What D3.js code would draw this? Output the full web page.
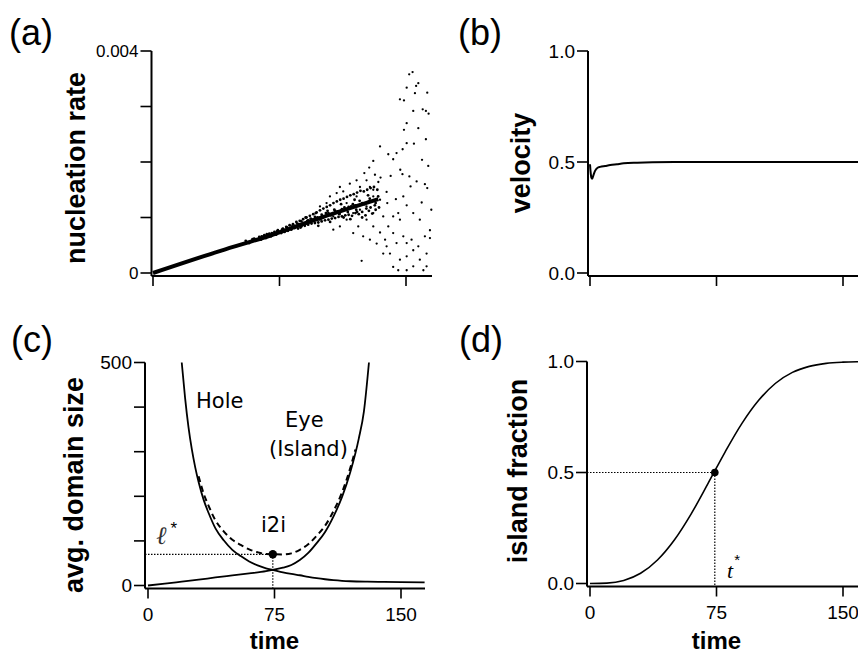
<!DOCTYPE html>
<html><head><meta charset="utf-8">
<script src="https://cdn.jsdelivr.net/npm/d3@7"></script>
<style>body{margin:0;background:#fff} svg{display:block}</style>
</head><body>
<svg id="chart" width="858" height="653"></svg>
<script>
// ---------- DATA ----------
const timeTicks = [0, 75, 150];
const timeTickLabels = ["0", "75", "150"];

const rateTicks = [0, 0.001, 0.002, 0.003, 0.004];
const rateTickLabels = ["0", "", "", "", "0.004"];
const rateFit = [[0,0],[40,0.0004],[70,0.00068],[100,0.00100],[133.6,0.00133]];
const rateBand = [
[55,0.00058],[57,0.00054],[59,0.00061],[61,0.00059],[63,0.00065],[64,0.00060],[66,0.00068],[67,0.00063],
[69,0.00071],[70,0.00066],[72,0.00074],[73,0.00069],[74,0.00077],[76,0.00072],[77,0.00080],[78,0.00074],
[79,0.00083],[80,0.00076],[81,0.00086],[82,0.00078],[83,0.00088],[84,0.00081],[85,0.00092],[86,0.00080],
[87,0.00094],[88,0.00084],[89,0.00097],[90,0.00085],[91,0.00100],[92,0.00087],[93,0.00103],[94,0.00089],
[95,0.00106],[96,0.00090],[97,0.00109],[98,0.00091],[99,0.00113],[100,0.00093],[101,0.00116],[102,0.00095],
[103,0.00119],[104,0.00096],[105,0.00122],[106,0.00098],[107,0.00126],[108,0.00099],[109,0.00129],[110,0.00101],
[111,0.00132],[112,0.00102],[113,0.00134],[114,0.00104],[115,0.00137],[116,0.00105],[117,0.00140],[118,0.00103],
[119,0.00142],[120,0.00108],[121,0.00145],[122,0.00106],[123,0.00148],[124,0.00110],[125,0.00147],[126,0.00104],
[127,0.00150],[128,0.00112],[129,0.00153],[130,0.00107],[131,0.00155],[132,0.00114],[133,0.00150],[134,0.00118],
[88,0.00093],[92,0.00095],[96,0.00101],[100,0.00105],[104,0.00108],[108,0.00112],[112,0.00115],[116,0.00119],
[120,0.00122],[124,0.00126],[128,0.00129],[85.5,0.00089],[93.5,0.00098],[101.5,0.00102],[109.5,0.00111],
[117.5,0.00120],[125.5,0.00124],
[60,0.00062],[61.5,0.00060],[63,0.00062],[64.5,0.00066],[66,0.00064],[67.5,0.00070],[69,0.00066],[70.5,0.00072],
[72,0.00070],[73.5,0.00075],[75,0.00074],[76.5,0.00078],[78,0.00077],[79.5,0.00082],[81,0.00080],[82.5,0.00084],
[84,0.00085],[86.5,0.00088],[89.5,0.00090],[91.5,0.00094],[94.5,0.00096],[97.5,0.00100],[99.5,0.00098],
[102.5,0.00108],[105.5,0.00104],[107.5,0.00114],[110.5,0.00106],[113.5,0.00118],[115.5,0.00110],[118.5,0.00124],
[120.5,0.00114],[122.5,0.00130],[126.5,0.00116],[128.5,0.00134],[131.5,0.00122],[133.5,0.00138],[96.5,0.00108],
[103.5,0.00112],[111.5,0.00124],[119.5,0.00132],[127.5,0.00140],[105,0.00092],[113,0.00100],[121,0.00110],
[129,0.00118],[98,0.00085],[117,0.00097],[124,0.00100],[132,0.00126],[90.5,0.00100],[87.5,0.00082]
];
const rateScatter = [
[153.9,0.00362],[151.9,0.00358],[157.3,0.00342],[156,0.00337],[150.4,0.00334],[155.3,0.00324],[162.6,0.00325],
[146.4,0.00313],[148.8,0.00311],[154.3,0.00292],[159.9,0.00295],[161.8,0.00292],[163.4,0.00287],[150.4,0.00270],
[148.8,0.00258],[157.3,0.00261],[161.8,0.00241],[150.4,0.00234],[154.7,0.00233],[148,0.00223],[134.6,0.00228],
[144.4,0.00216],[139.5,0.00214],[159.5,0.00204],[163.2,0.00193],[142.4,0.00205],[130.6,0.00202],[146.6,0.00186],
[147.9,0.00178],[128.2,0.00190],[131.6,0.00177],[125.3,0.00180],[134.9,0.00172],[140.9,0.00175],[152,0.00174],
[156.3,0.00165],[161.2,0.00160],[152.7,0.00156],[162.6,0.00153],[165,0.00114],[159.3,0.00127],[150.4,0.00122],
[145.4,0.00108],[138.9,0.00126],[144,0.00133],[148.4,0.00138],[138.5,0.00146],[133.6,0.00164],[128.6,0.00155],
[122.7,0.00155],[126.6,0.00096],[130.6,0.00084],[134.6,0.00073],[132.6,0.00053],[137.6,0.00060],[142.4,0.00072],
[148.4,0.00066],[150.4,0.00054],[153.3,0.00060],[157.3,0.00048],[161.2,0.00066],[164.2,0.00077],[162.2,0.00035],
[158.2,0.00024],[154.3,0.00041],[150.4,0.00030],[146.4,0.00024],[142.4,0.00011],[145.4,0.00005],[150.4,0.00005],
[160.3,0.00005],[123.7,0.00022],[154.3,0.00012],[162.2,0.00012],[140.5,0.00035],[136.5,0.00035],[118.7,0.00108],
[114.8,0.00096],[121.7,0.00084],[110.8,0.00084],[106.9,0.00078],[118.7,0.00072],[124.6,0.00066],[128.6,0.00060],
[110.8,0.00155],[116.7,0.00161],[120.7,0.00167],[126.6,0.00167],[104.9,0.00138],[108.9,0.00144],[112.8,0.00147],
[102.9,0.00126],[99,0.00120],[114.8,0.00126],[120.7,0.00138],[130.6,0.00150],[130.6,0.00138],[134.6,0.00132],
[110.8,0.00108],[114.8,0.00114],[106.9,0.00102],[102.9,0.00105],[99,0.00096],[122.7,0.00114],[126.6,0.00120],
[130.6,0.00108],[136.5,0.00102],[139.5,0.00084],[142.4,0.00102],[146.4,0.00096],[154.3,0.00108],[158.2,0.00096],
[164.2,0.00063],[144.4,0.00054],[138.5,0.00048]
];

const velTicks = [0, 0.5, 1.0];
const velTickLabels = ["0.0", "0.5", "1.0"];
const velocity = [[0,0.49],[0.3,0.46],[0.8,0.43],[1.3,0.425],[2,0.44],[3,0.46],[4.5,0.474],[6,0.478],[9,0.482],
[12,0.486],[16,0.49],[20,0.494],[28,0.497],[37,0.499],[50,0.5],[100,0.5],[165,0.5]];

const sizeTicks = [0, 100, 200, 300, 400, 500];
const sizeTickLabels = ["0", "", "", "", "", "500"];
const holeSize = [[20,500],[22,420],[24,355],[26,305],[28,265],[30,232],[33,192],[36,162],[40,128],[45,101],
[50,80],[55,66],[60,54],[65,45],[70,38.5],[74,35],[80,29.5],[85,26],[90,23],[95,19.5],[100,16.5],[105,14],
[110,12],[115,10.5],[120,9.5],[130,8.5],[140,8],[150,7.5],[164,7]];
const eyeSize = [[0,0],[10,4],[20,8.5],[30,13],[40,18],[50,22.5],[60,27],[70,32],[74,35],[80,40],[85,46],
[90,57],[95,73],[100,95],[105,120],[110,155],[115,198],[120,255],[125,330],[128,390],[131,500]];
const totalSize = [[30,245],[33,206],[36,178],[40,146],[45,121],[50,102.5],[55,91],[60,81],[65,74.5],[70,70.5],
[74,70],[80,69.5],[85,72],[90,80],[95,92.5],[100,111.5],[105,134],[110,167],[115,208.5],[120,264.5],[123,305]];
const i2iPoint = [74, 70];

const fracTicks = [0, 0.5, 1.0];
const fracTickLabels = ["0.0", "0.5", "1.0"];
const islandFraction = [[0,0],[10,0.0017],[20,0.0138],[30,0.046],[40,0.106],[50,0.196],[60,0.314],[70,0.451],
[80,0.591],[90,0.720],[100,0.825],[110,0.902],[120,0.951],[130,0.978],[140,0.9917],[150,0.9972],[160,0.9991],[170,0.9998]];
const halfPoint = [74, 0.5];

// ---------- DRAW ----------
const svg = d3.select("#chart");
const SANS = "'Liberation Sans', Arial, Helvetica, sans-serif";
const TICKFS = 19, TITLEFS = 27;

function panel(o) {
  const g = svg.append("g");
  const x = d3.scaleLinear().domain([0,150]).range(o.xr);
  const y = d3.scaleLinear().domain(o.yd).range(o.yr);
  const ax = x(0) - o.off, ay = y(0) + 3;
  g.append("line").attr("x1",ax).attr("x2",ax).attr("y1",y(o.yd[1])).attr("y2",ay)
    .attr("stroke","#000").attr("stroke-width",2);
  o.yTicks.forEach((t,i)=>{
    g.append("line").attr("x1",ax-11).attr("x2",ax).attr("y1",y(t)).attr("y2",y(t))
      .attr("stroke","#000").attr("stroke-width",1.6);
    if (o.yLabels[i]) g.append("text").attr("x",ax-13).attr("y",y(t)).attr("dy","0.35em")
      .attr("text-anchor","end").attr("font-family",SANS).attr("font-size",o.yfs||TICKFS).text(o.yLabels[i]);
  });
  g.append("line").attr("x1",ax).attr("x2",o.xEnd).attr("y1",ay).attr("y2",ay)
    .attr("stroke","#000").attr("stroke-width",2);
  timeTicks.forEach((t,i)=>{
    g.append("line").attr("x1",x(t)).attr("x2",x(t)).attr("y1",ay).attr("y2",ay+10)
      .attr("stroke","#000").attr("stroke-width",1.6);
    if (o.xLabels) g.append("text").attr("x",x(t)).attr("y",ay+32).attr("text-anchor","middle")
      .attr("font-family",SANS).attr("font-size",TICKFS).text(timeTickLabels[i]);
  });
  if (o.xLabels) g.append("text").attr("x",x(75)+o.timeDx).attr("y",649).attr("text-anchor","middle")
      .attr("font-family",SANS).attr("font-weight","bold").attr("font-size",24).text("time");
  g.append("text").attr("transform",`translate(${o.titleX},${o.titleY}) rotate(-90)`)
    .attr("text-anchor","middle").attr("font-family",SANS).attr("font-weight","bold")
    .attr("font-size",TITLEFS).text(o.title);
  g.append("text").attr("x",o.lx).attr("y",o.ly).attr("font-family",SANS).attr("font-size",36).text(o.letter);
  return {g,x,y};
}

const line = (x,y) => d3.line().x(d=>x(d[0])).y(d=>y(d[1])).curve(d3.curveMonotoneX);

// (a)
{
  const {g,x,y} = panel({xr:[153,406], yd:[0,0.004], yr:[273,51], off:1.5, yTicks:rateTicks, yLabels:rateTickLabels,
    xEnd:432, xLabels:false, title:"nucleation rate", titleX:85, titleY:168, letter:"(a)", lx:9, ly:45, yfs:17});
  g.append("path").datum(rateFit).attr("d",line(x,y)).attr("fill","none").attr("stroke","#000").attr("stroke-width",4);
  g.selectAll(".band").data(rateBand).join("circle").attr("cx",d=>x(d[0])).attr("cy",d=>y(d[1])).attr("r",1.4).attr("fill","#000");
  g.selectAll(".sc").data(rateScatter).join("circle").attr("cx",d=>x(d[0])).attr("cy",d=>y(d[1])).attr("r",1.15).attr("fill","#000");
}
// (b)
{
  const {g,x,y} = panel({xr:[590,843], yd:[0,1], yr:[273,51], off:2, yTicks:velTicks, yLabels:velTickLabels,
    xEnd:870, xLabels:false, title:"velocity", titleX:530, titleY:163, letter:"(b)", lx:458, ly:45});
  g.append("path").datum(velocity).attr("d",line(x,y)).attr("fill","none").attr("stroke","#000").attr("stroke-width",2);
}
// (c)
{
  const {g,x,y} = panel({xr:[148,401], yd:[0,500], yr:[585.5,362.5], off:3, yTicks:sizeTicks, yLabels:sizeTickLabels,
    xEnd:425, xLabels:true, timeDx:0, title:"avg. domain size", titleX:83, titleY:485, letter:"(c)", lx:11, ly:352});
  g.append("path").datum(holeSize).attr("d",line(x,y)).attr("fill","none").attr("stroke","#000").attr("stroke-width",1.8);
  g.append("path").datum(eyeSize).attr("d",line(x,y)).attr("fill","none").attr("stroke","#000").attr("stroke-width",1.8);
  g.append("path").datum(totalSize).attr("d",line(x,y)).attr("fill","none").attr("stroke","#000").attr("stroke-width",2)
    .attr("stroke-dasharray","6,4");
  const ax = x(0)-3;
  g.append("line").attr("x1",ax).attr("x2",x(i2iPoint[0])).attr("y1",y(i2iPoint[1])).attr("y2",y(i2iPoint[1]))
    .attr("stroke","#000").attr("stroke-width",1.2).attr("stroke-dasharray","1.5,1.5");
  g.append("line").attr("x1",x(i2iPoint[0])).attr("x2",x(i2iPoint[0])).attr("y1",y(i2iPoint[1])).attr("y2",y(0)+3)
    .attr("stroke","#000").attr("stroke-width",1.2).attr("stroke-dasharray","1.5,1.5");
  g.append("circle").attr("cx",x(i2iPoint[0])).attr("cy",y(i2iPoint[1])).attr("r",4.2).attr("fill","#000");
  const F = "'DejaVu Sans', Verdana, sans-serif";
  g.append("text").attr("x",196).attr("y",408).attr("font-family",F).attr("font-size",21).text("Hole");
  g.append("text").attr("x",285).attr("y",427).attr("font-family",F).attr("font-size",21).text("Eye");
  g.append("text").attr("x",269).attr("y",456).attr("font-family",F).attr("font-size",21).text("(Island)");
  g.append("text").attr("x",261).attr("y",532).attr("font-family",F).attr("font-size",21).text("i2i");
  const l = g.append("text").attr("x",156).attr("y",544).attr("font-family","'DejaVu Serif', serif").attr("font-size",25);
  l.append("tspan").attr("font-style","italic").attr("fill","#333").text("ℓ");
  l.append("tspan").attr("dx",4).attr("dy",-10).attr("font-size",17).attr("font-family",SANS).text("*");
}
// (d)
{
  const {g,x,y} = panel({xr:[590,843], yd:[0,1], yr:[583.5,361.5], off:3, yTicks:fracTicks, yLabels:fracTickLabels,
    xEnd:870, xLabels:true, timeDx:0, title:"island fraction", titleX:527, titleY:471, letter:"(d)", lx:459, ly:352});
  g.append("path").datum(islandFraction).attr("d",line(x,y)).attr("fill","none").attr("stroke","#000").attr("stroke-width",1.6);
  const ax = x(0)-3;
  g.append("line").attr("x1",ax).attr("x2",x(halfPoint[0])).attr("y1",y(halfPoint[1])).attr("y2",y(halfPoint[1]))
    .attr("stroke","#000").attr("stroke-width",1.2).attr("stroke-dasharray","1.5,1.5");
  g.append("line").attr("x1",x(halfPoint[0])).attr("x2",x(halfPoint[0])).attr("y1",y(halfPoint[1])).attr("y2",y(0)+3)
    .attr("stroke","#000").attr("stroke-width",1.2).attr("stroke-dasharray","1.5,1.5");
  g.append("circle").attr("cx",x(halfPoint[0])).attr("cy",y(halfPoint[1])).attr("r",3.8).attr("fill","#000");
  const t = g.append("text").attr("x",727).attr("y",578).attr("font-family","'Liberation Serif', serif").attr("font-size",22);
  t.append("tspan").attr("font-style","italic").text("t");
  t.append("tspan").attr("dx",1).attr("dy",-13).attr("font-size",15).attr("font-family",SANS).text("*");
}
</script>
</body></html>
